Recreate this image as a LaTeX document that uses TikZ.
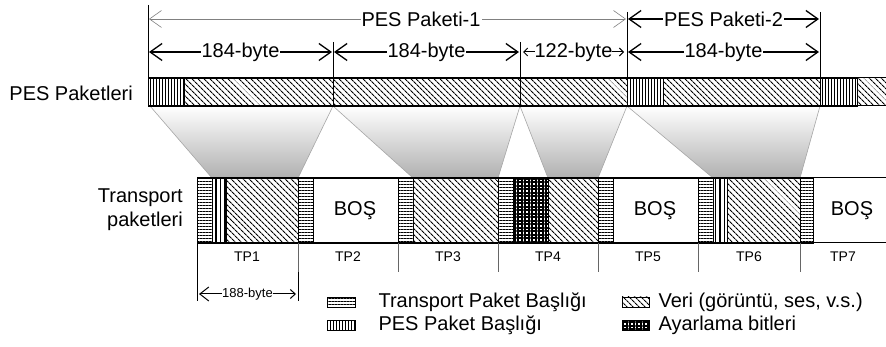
\documentclass[tikz,border=0pt]{standalone}
\usepackage{fontspec}
\setmainfont{Liberation Sans}
\usetikzlibrary{patterns.meta,arrows.meta}

\begin{document}
\begin{tikzpicture}[x=1pt,y=-1pt,
    tphead/.style={draw, line width=.8pt, pattern={Lines[angle=0,distance=3pt,line width=1pt]}},
    peshead/.style={draw, line width=.8pt, pattern={Lines[angle=90,distance=3pt,line width=1pt]}},
    pesthin/.style={draw, line width=.8pt, pattern={Lines[angle=90,distance=4.5pt,line width=1.1pt]}},
    payload/.style={draw, line width=.8pt, pattern={Lines[angle=-45,distance=4pt,line width=1.1pt]}},
    stuffing/.style={draw, line width=.8pt, pattern={Hatch[distance=3.5pt,line width=2pt]}},
    funnel/.style={draw=gray!70, line width=.6pt, top color=white, bottom color=gray!62},
    dimline/.style={{Straight Barb[length=12pt,width=17pt,line width=1.3pt]}-{Straight Barb[length=12pt,width=17pt,line width=1.3pt]}, line width=1.3pt, shorten <=1pt, shorten >=1pt},
    thindim/.style={{Straight Barb[length=12pt,width=17pt,line width=.6pt]}-{Straight Barb[length=12pt,width=17pt,line width=.6pt]}, draw=gray, line width=.6pt, shorten <=1pt, shorten >=1pt},
    smalldim/.style={{Straight Barb[length=4pt,width=8pt]}-{Straight Barb[length=4pt,width=8pt]}, line width=1pt},
    biglabel/.style={font=\fontsize{20}{24}\selectfont, inner sep=1pt},
    tplabel/.style={font=\fontsize{14}{16}\selectfont},
    legendtext/.style={font=\fontsize{20}{23}\selectfont, anchor=west},
  ]
  \useasboundingbox (0,0) rectangle (886,347);

  % funnels from PES packets to transport packets
  \foreach \a/\b/\c/\d in {150/333/212/298, 333/520/413/498, 520/627/548/598, 627/820/713/800}
    \path[funnel] (\a,106) -- (\b,106) -- (\d,178) -- (\c,178) -- cycle;

  % PES packet stream
  \draw[peshead] (148,78) rectangle (184,106);
  \draw[payload] (184,78) rectangle (333,106);
  \draw[payload] (333,78) rectangle (520,106);
  \draw[payload] (520,78) rectangle (627,106);
  \draw[peshead] (627,78) rectangle (663,106);
  \draw[payload] (663,78) rectangle (820,106);
  \draw[peshead] (820,78) rectangle (857,106);
  \path[payload, draw=none] (857,78) rectangle (886,106);
  \draw[line width=1pt] (148,78) -- (886,78) (148,106) -- (886,106);

  % boundary ticks
  \draw (148,5) -- (148,78);
  \draw (333,42) -- (333,78);
  \draw (520,42) -- (520,78);
  \draw (627,12) -- (627,78);
  \draw (820,12) -- (820,78);

  % dimension arrows
  \foreach \n/\x in {a/148,b/333,c/520,d/627,e/820} {
    \coordinate (\n1) at (\x,19);
    \coordinate (\n2) at (\x,52);
  }
  \draw[thindim] (a1) -- node[biglabel, fill=white, pos=.57] (pes1) {PES Paketi-1} (d1);
  \draw[dimline] (d1) -- node[biglabel, fill=white] (pes2) {PES Paketi-2} (e1);
  \draw[dimline] (a2) -- node[biglabel, fill=white] (len1) {184-byte} (b2);
  \draw[dimline] (b2) -- node[biglabel, fill=white] (len2) {184-byte} (c2);
  \draw[smalldim] ([xshift=3pt]c2) -- node[biglabel, fill=white, inner sep=0pt] (len3) {122-byte} ([xshift=-3pt]d2);
  \draw[dimline] (d2) -- node[biglabel, fill=white] (len4) {184-byte} (e2);

  % row labels
  \node[biglabel, anchor=east] (pesrow) at (134,93) {PES Paketleri};
  \node[biglabel, anchor=east, align=right] (tprow) at (184,210) {Transport\\paketleri};

  % transport packets
  \draw[tphead] (197,178) rectangle (212,243);
  \draw[pesthin] (212,178) rectangle (226,243);
  \draw[payload] (226,178) rectangle (298,243);
  \draw[tphead] (298,178) rectangle (313,243);
  \draw (313,178) rectangle (398,243);
  \draw[tphead] (398,178) rectangle (413,243);
  \draw[payload] (413,178) rectangle (498,243);
  \draw[tphead] (498,178) rectangle (513,243);
  \draw[stuffing] (513,178) rectangle (548,243);
  \draw[payload] (548,178) rectangle (598,243);
  \draw[tphead] (598,178) rectangle (613,243);
  \draw (613,178) rectangle (698,243);
  \draw[tphead] (698,178) rectangle (713,243);
  \draw[pesthin] (713,178) rectangle (727,243);
  \draw[payload] (727,178) rectangle (800,243);
  \draw[tphead] (800,178) rectangle (813,243);
  \draw[line width=1pt] (197,178) -- (886,178) (197,243) -- (886,243);

  \node[biglabel] (bos2) at (355,211) {BOŞ};
  \node[biglabel] (bos5) at (655,211) {BOŞ};
  \node[biglabel] (bos7) at (852,211) {BOŞ};

  % packet numbers
  \foreach \x in {298,398,498,598,698,800}
    \draw[gray!80!black] (\x,243) -- (\x,272);
  \draw (197,243) -- (197,301);
  \draw (298,272) -- (298,301);
  \foreach \i/\x in {1/247,2/348,3/448,4/548,5/648,6/749,7/843}
    \node[tplabel] (tp\i) at (\x,257) {TP\i};

  \coordinate (s1) at (199,294);
  \coordinate (s2) at (296,294);
  \draw[{Straight Barb[length=9pt,width=14pt,line width=1pt]}-{Straight Barb[length=5pt,width=9pt]}, line width=1pt]
    (s1) -- node[font=\fontsize{13}{15}\selectfont, fill=white, inner sep=.5pt] (len188) {188-byte} (s2);

  % legend
  \draw[tphead] (327,297) rectangle (355,307);
  \node[legendtext] (lg1) at (375,302) {Transport Paket Başlığı};
  \draw[peshead] (327,320) rectangle (355,330);
  \node[legendtext] (lg2) at (375,325) {PES Paket Başlığı};
  \draw[payload] (622,297) rectangle (649,307);
  \node[legendtext] (lg3) at (655,302) {Veri (görüntü, ses, v.s.)};
  \draw[stuffing] (622,320) rectangle (649,330);
  \node[legendtext] (lg4) at (655,325) {Ayarlama bitleri};
\end{tikzpicture}
\end{document}
